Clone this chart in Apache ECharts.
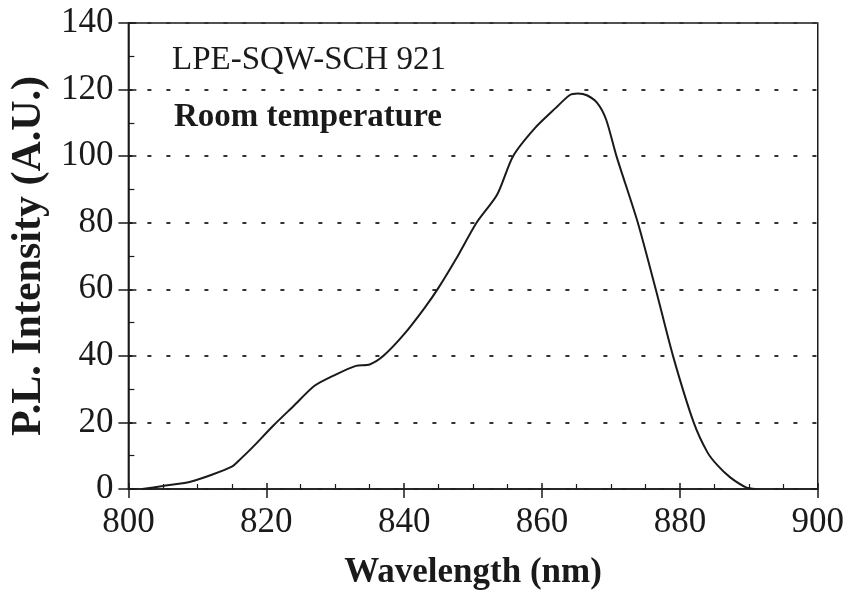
<!DOCTYPE html>
<html>
<head>
<meta charset="utf-8">
<script src="https://cdn.jsdelivr.net/npm/echarts@6/dist/echarts.min.js"></script>
<style>
html,body{margin:0;padding:0;background:#fff;}
#chart{width:847px;height:608px;}
</style>
</head>
<body>
<div id="chart"></div>
<script>
// Data
var wavelength = [802, 805, 809, 812, 815, 816, 818, 821, 824, 827, 830, 833, 835, 837, 840, 843, 845, 847.5, 850.5, 853.5, 855.8, 859, 862, 864, 865.2, 866.5, 868, 869.3, 870.8, 873.9, 876.5, 879, 882, 884, 885.5, 887.3, 889.6, 891];
var intensity  = [0, 0.9, 2.2, 4.2, 6.7, 8.5, 12.5, 19, 25, 31, 34.3, 37, 37.4, 40, 46.5, 54.5, 60.5, 69, 80, 88.5, 100, 108.5, 114.5, 118.3, 118.8, 118.3, 116, 111, 100, 80, 60, 40, 20, 11, 7, 3.5, 0.5, 0];
var xTitle = 'Wavelength (nm)';
var yTitle = 'P.L. Intensity (A.U.)';
var noteLines = ['LPE-SQW-SCH 921', 'Room temperature'];
var xRange = [800, 900, 20];
var yRange = [0, 140, 20];

var points = wavelength.map(function (w, i) { return [w, intensity[i]]; });
var FONT = '"Liberation Serif", "Times New Roman", serif';
var INK = '#1a1a1a';

var chart = echarts.init(document.getElementById('chart'), null, {renderer: 'canvas'});
chart.setOption({
  backgroundColor: '#ffffff',
  animation: false,
  grid: {left: 127, right: 29, top: 23, bottom: 119, show: true, borderColor: INK, borderWidth: 1.5, backgroundColor: 'transparent'},
  graphic: [
    {type: 'text', left: 172, top: 44, style: {text: noteLines[0], font: '33px ' + FONT, fill: INK}},
    {type: 'text', left: 174, top: 101, style: {text: noteLines[1], font: 'bold 33px ' + FONT, fill: INK}}
  ],
  xAxis: [
    {
      type: 'value', position: 'bottom', min: xRange[0], max: xRange[1], interval: xRange[2],
      name: xTitle, nameLocation: 'middle', nameGap: 66,
      nameTextStyle: {fontFamily: FONT, fontSize: 35, fontWeight: 'bold', color: INK},
      axisLine: {show: true, lineStyle: {color: INK, width: 1.5}},
      axisTick: {show: true, inside: true, length: 6, lineStyle: {color: INK, width: 1.5}},
      minorTick: {show: true, splitNumber: 4, length: 5, lineStyle: {color: INK, width: 1.2}},
      axisLabel: {fontFamily: FONT, fontSize: 35, color: INK, margin: 16},
      splitLine: {show: false}
    },
    {
      type: 'value', position: 'bottom', min: xRange[0], max: xRange[1], interval: xRange[2],
      axisLine: {show: false},
      axisTick: {show: true, inside: false, length: 9, lineStyle: {color: INK, width: 1.5}},
      axisLabel: {show: false},
      splitLine: {show: false}
    }
  ],
  yAxis: [
    {
      type: 'value', position: 'left', min: yRange[0], max: yRange[1], interval: yRange[2],
      name: yTitle, nameLocation: 'middle', nameGap: 74,
      nameTextStyle: {fontFamily: FONT, fontSize: 42, fontWeight: 'bold', color: INK},
      axisLine: {show: true, lineStyle: {color: INK, width: 1.5}},
      axisTick: {show: true, inside: true, length: 8, lineStyle: {color: INK, width: 1.5}},
      minorTick: {show: true, splitNumber: 2, length: 6, lineStyle: {color: INK, width: 1.2}},
      axisLabel: {fontFamily: FONT, fontSize: 35, color: INK, margin: 15},
      splitLine: {show: true, lineStyle: {color: '#333', width: 2, type: [4, 15]}}
    },
    {
      type: 'value', position: 'left', min: yRange[0], max: yRange[1], interval: yRange[2],
      axisLine: {show: false},
      axisTick: {show: true, inside: false, length: 10, lineStyle: {color: INK, width: 1.5}},
      axisLabel: {show: false},
      splitLine: {show: false}
    }
  ],
  series: [{
    type: 'line', xAxisIndex: 0, yAxisIndex: 0, data: points, smooth: 0.25,
    showSymbol: false, lineStyle: {color: INK, width: 2}
  }]
});
</script>
</body>
</html>
